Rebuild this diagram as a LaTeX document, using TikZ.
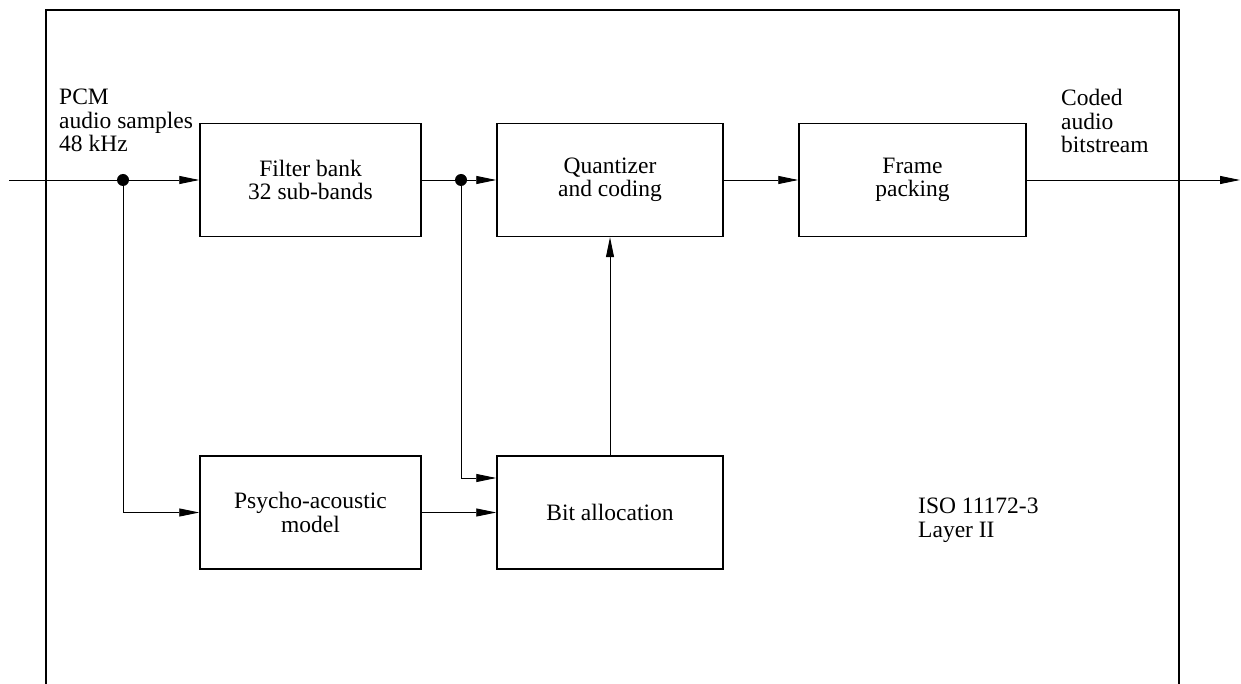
\documentclass[tikz,border=0pt]{standalone}
\usepackage{fontspec}
\setmainfont{Liberation Serif}
\usetikzlibrary{arrows.meta}
\begin{document}
\begin{tikzpicture}[x=1pt,y=-1pt,
  every node/.style={font=\fontsize{23.5}{23.5}\selectfont},
  blk/.style={draw,line width=1.5pt,rectangle,minimum height=113pt,inner sep=0pt,align=center},
  arr/.style={line width=0.9pt,-{Triangle[length=20pt,width=8pt]}},
  jdot/.style={circle,fill,inner sep=0pt,minimum size=12pt},
  lbl/.style={align=left,inner sep=0pt,anchor=base west},
  outer/.style={line width=1.8pt}]
\useasboundingbox (0,0) rectangle (1241,684);
\fill[white] (0,0) rectangle (1241,684);
% outer frame (open at bottom)
\draw[outer] (46,684) -- (46,10) -- (1179,10) -- (1179,684);
% blocks
\node[blk,minimum width=221pt] (filter) at (310.5,180) {Filter bank\\32 sub-bands};
\node[blk,minimum width=226pt] (quant) at (610,180) {Quantizer\\and coding};
\node[blk,minimum width=227pt] (frame) at (912.5,180) {Frame\\packing};
\node[blk,minimum width=221pt] (psycho) at (310.5,512.5) {Psycho-acoustic\\model};
\node[blk,minimum width=226pt] (bit) at (610,512.5) {Bit allocation};
% junctions and free ends
\coordinate (in) at (9,180);
\coordinate (out) at (1240,180);
\node[jdot] (d1) at (123,180) {};
\node[jdot] (d2) at (461,180) {};
% connectors
\draw[arr] (in) -- (filter.west);
\draw[arr] (filter.east) -- (quant.west);
\draw[arr] (quant.east) -- (frame.west);
\draw[arr] (frame.east) -- (out);
\draw[arr] (d1.center) |- (psycho.west);
\draw[arr] (d2.center) |- ([yshift=34.5pt]bit.west);
\draw[arr] (psycho.east) -- (bit.west);
\draw[arr] (bit.north) -- (quant.south);
% labels (base anchor = baseline of the last line)
\node[lbl] (pcm) at (59,152) {PCM\\audio samples\\48 kHz};
\node[lbl] (coded) at (1061,153) {Coded\\audio\\bitstream};
\node[lbl] (iso) at (918,537) {ISO 11172-3\\Layer II};
\end{tikzpicture}
\end{document}
